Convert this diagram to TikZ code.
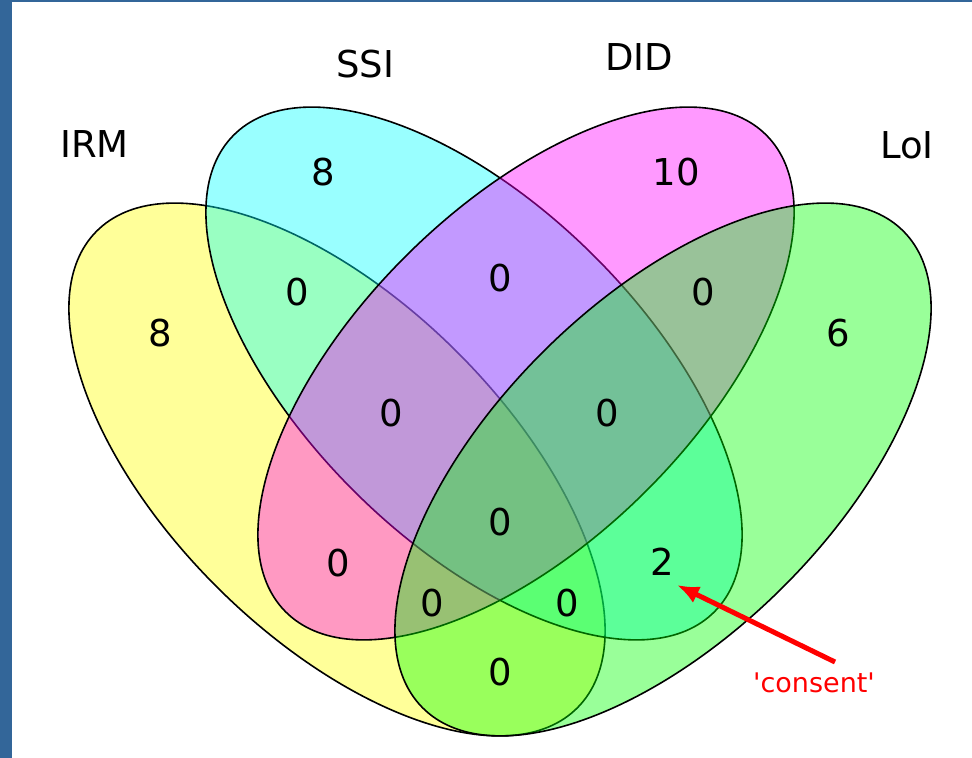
\documentclass[tikz,border=0pt]{standalone}
\usepackage{fontspec}
\setmainfont{DejaVu Sans}
\usetikzlibrary{arrows.meta}

\definecolor{frameblue}{RGB}{51,102,153}
\definecolor{irmyellow}{RGB}{255,255,0}
\definecolor{ssicyan}{RGB}{0,255,255}
\definecolor{didmagenta}{RGB}{255,0,255}
\definecolor{loigreen}{RGB}{0,255,0}
\definecolor{notered}{RGB}{255,0,0}

\tikzset{
    setshape/.style={draw=black, line width=0.8pt, fill opacity=0.4},
    cnt/.style={font=\fontsize{18.5}{20}\selectfont},
    setname/.style={font=\fontsize{18.5}{20}\selectfont},
    pointer/.style={-{Latex[length=11pt,width=9pt]}, notered, line width=2.5pt}
}

\begin{document}
\begin{tikzpicture}[x=0.5pt, y=0.5pt]
        \useasboundingbox (0,0) rectangle (972,758);
        \fill [frameblue] (0,0) rectangle (12,758);
        \fill [frameblue] (0,756) rectangle (972,758);

        % the four sets
        \path [setshape, fill=irmyellow,  rotate around={-44.7:(337,288.5)}] (337,288.5) ellipse (338.5 and 168);
        \path [setshape, fill=ssicyan,    rotate around={-44.7:(474,384.5)}] (474,384.5) ellipse (338.5 and 168);
        \path [setshape, fill=didmagenta, rotate around={44.7:(526,384.5)}]  (526,384.5) ellipse (338.5 and 168);
        \path [setshape, fill=loigreen,   rotate around={44.7:(663,288.5)}]  (663,288.5) ellipse (338.5 and 168);

        \node [setname] (irm) at (94.5,614)  {IRM};
        \node [setname] (ssi) at (365,694)   {SSI};
        \node [setname] (did) at (639,700.5) {DID};
        \node [setname] (loi) at (907,612.5) {LoI};

        \node [cnt] (n1000) at (160,425) {8};
        \node [cnt] (n0100) at (323,586) {8};
        \node [cnt] (n0010) at (676,586) {10};
        \node [cnt] (n0001) at (838,425) {6};
        \node [cnt] (n1100) at (297,466) {0};
        \node [cnt] (n0110) at (500,480) {0};
        \node [cnt] (n0011) at (703,466) {0};
        \node [cnt] (n1110) at (391,345) {0};
        \node [cnt] (n0111) at (607,345) {0};
        \node [cnt] (n1111) at (500,236) {0};
        \node [cnt] (n1010) at (338,195) {0};
        \node [cnt] (n0101) at (662,196) {2};
        \node [cnt] (n1011) at (432,155) {0};
        \node [cnt] (n1101) at (567,155) {0};
        \node [cnt] (n1001) at (500,86)  {0};

        \node [notered, anchor=base, font=\fontsize{13.5}{15}\selectfont] (consent) at (814,65) {\textquotesingle consent\textquotesingle};
        \coordinate (tail) at (835,96);
        \coordinate (tip) at (677,173);
        \draw [pointer] (tail) -- (tip);
\end{tikzpicture}
\end{document}
